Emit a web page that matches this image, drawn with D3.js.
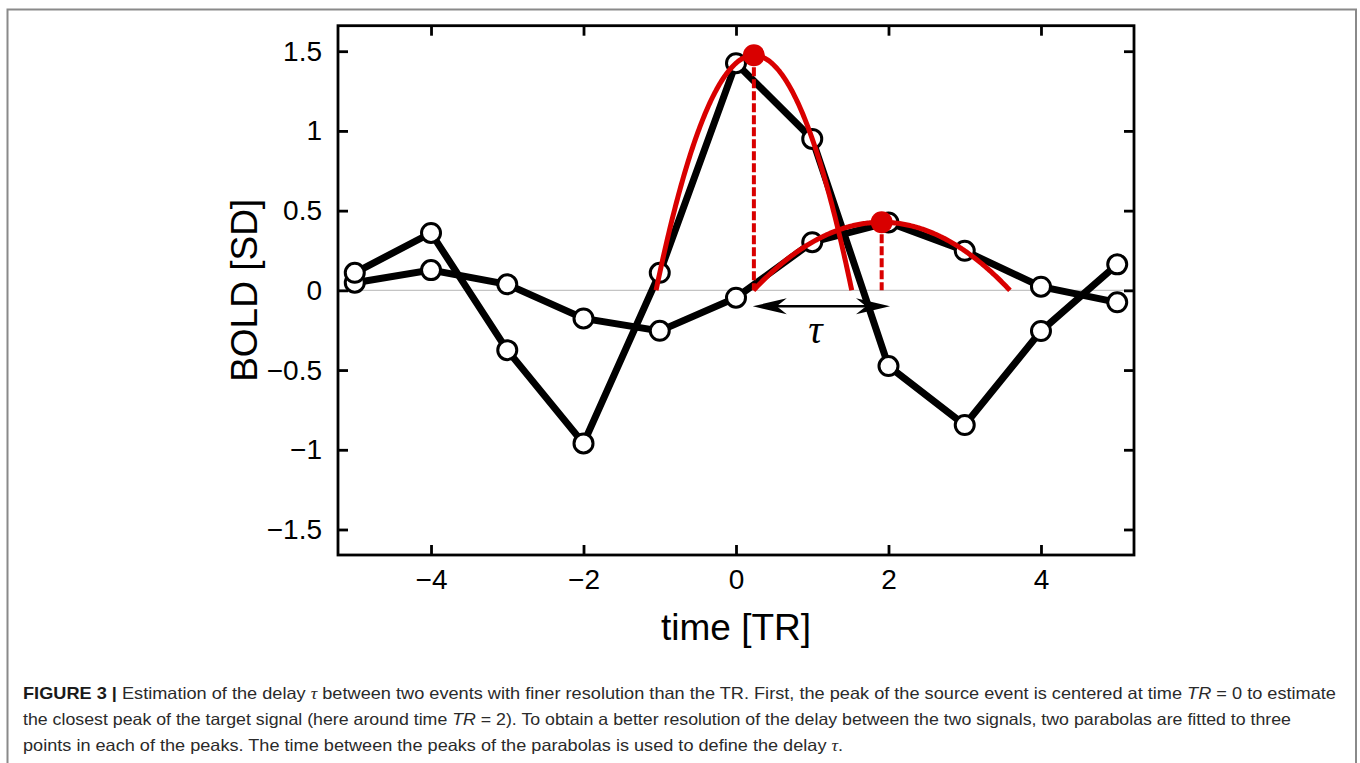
<!DOCTYPE html>
<html><head><meta charset="utf-8">
<script src="https://cdn.jsdelivr.net/npm/d3@7"></script>
<style>
html,body{margin:0;padding:0;background:#fff;}
svg{display:block;}
</style></head>
<body>
<svg id="chart" width="1360" height="763"></svg>
<script>
// ---- data ----
const timeTR = [-5,-4,-3,-2,-1,0,1,2,3,4,5];
const sourceSignal = [0.11,0.36,-0.375,-0.96,0.11,1.425,0.95,-0.475,-0.845,-0.255,0.163];
const targetSignal = [0.048,0.127,0.038,-0.176,-0.254,-0.046,0.302,0.426,0.248,0.023,-0.075];
const sourceFitIdx = [4,5,6];
const targetFitIdx = [6,7,8];
const xTicks = [-4,-2,0,2,4];
const yTicks = [-1.5,-1,-0.5,0,0.5,1,1.5];
const arrowSpan = [0.22, 2.02];
const arrowLevel = [-0.1];
const xTitle = "time [TR]";
const yTitle = "BOLD [SD]";

const svg = d3.select("#chart");
const L = 338, R = 1134, T = 25.7, B = 555;
const x = d3.scaleLinear().domain([-5.22,5.22]).range([L,R]);
const y = d3.scaleLinear().domain([-1.66,1.66]).range([B,T]);
const RED = "#d90000";

// outer frame
svg.append("path").attr("d",`M7.5,770 V9.5 H1356 V770`).attr("fill","none")
  .attr("stroke","#8a8a8a").attr("stroke-width",2);

// zero line
svg.append("line").attr("x1",L).attr("x2",R).attr("y1",y(0)).attr("y2",y(0))
  .attr("stroke","#c4c4c4").attr("stroke-width",1.2);

// axes
const fmt = d3.format("~g");
const axFont = "'Liberation Sans', Arial, Helvetica, sans-serif";
function styleAxis(g, showText){
  g.select(".domain").remove();
  g.selectAll(".tick line").attr("stroke","#000").attr("stroke-width",2.8);
  g.selectAll(".tick text").attr("fill","#000").style("font-family",axFont).style("font-size","28px");
  if(!showText) g.selectAll(".tick text").remove();
}
svg.append("g").attr("transform",`translate(0,${B})`)
  .call(d3.axisBottom(x).tickValues(xTicks).tickFormat(fmt).tickSize(-10).tickPadding(14))
  .call(g=>styleAxis(g,true));
svg.append("g").attr("transform",`translate(0,${T})`)
  .call(d3.axisTop(x).tickValues(xTicks).tickSize(-10))
  .call(g=>styleAxis(g,false));
svg.append("g").attr("transform",`translate(${L},0)`)
  .call(d3.axisLeft(y).tickValues(yTicks).tickFormat(fmt).tickSize(-10).tickPadding(16))
  .call(g=>styleAxis(g,true));
svg.append("g").attr("transform",`translate(${R},0)`)
  .call(d3.axisRight(y).tickValues(yTicks).tickSize(-10))
  .call(g=>styleAxis(g,false));

// frame
svg.append("rect").attr("x",L).attr("y",T).attr("width",R-L).attr("height",B-T)
  .attr("fill","none").attr("stroke","#000").attr("stroke-width",2.8);

// axis titles
svg.append("text").attr("x",(L+R)/2).attr("y",640).attr("text-anchor","middle")
  .style("font-family",axFont).style("font-size","37px").text(xTitle);
svg.append("text").attr("transform",`translate(257,${(T+B)/2}) rotate(-90)`).attr("text-anchor","middle")
  .style("font-family",axFont).style("font-size","37px").text(yTitle);

// series lines
const line = d3.line().x(d=>x(d[0])).y(d=>y(d[1]));
const srcPts = timeTR.map((t,i)=>[t,sourceSignal[i]]);
const tgtPts = timeTR.map((t,i)=>[t,targetSignal[i]]);
[tgtPts, srcPts].forEach(p=>{
  svg.append("path").attr("d",line(p)).attr("fill","none").attr("stroke","#000")
    .attr("stroke-width",7).attr("stroke-linejoin","miter");
});
[tgtPts, srcPts].forEach(p=>{
  svg.append("g").selectAll("circle").data(p).join("circle")
    .attr("cx",d=>x(d[0])).attr("cy",d=>y(d[1])).attr("r",9.5)
    .attr("fill","#fff").attr("stroke","#000").attr("stroke-width",3);
});

// parabola fits through three points
function fit(pts, idx){
  const [p0,p1,p2] = idx.map(i=>pts[i]);
  const h = p1[0]-p0[0];
  const a = (p0[1]+p2[1]-2*p1[1])/(2*h*h);
  const b = (p2[1]-p0[1])/(2*h);
  const xv = p1[0] - b/(2*a);
  const yv = p1[1] - b*b/(4*a);
  const half = Math.sqrt(-yv/a);
  return {a, xv, yv, x0: xv-half, x1: xv+half};
}
const fits = [fit(srcPts, sourceFitIdx), fit(tgtPts, targetFitIdx)];
fits.forEach(f=>{
  const pts = d3.range(0,201).map(k=>{const t=f.x0+(f.x1-f.x0)*k/200; return [t, f.yv + f.a*(t-f.xv)*(t-f.xv)];});
  svg.append("path").attr("d",line(pts)).attr("fill","none").attr("stroke",RED).attr("stroke-width",5);
});
fits.forEach(f=>{
  svg.append("line").attr("x1",x(f.xv)).attr("x2",x(f.xv)).attr("y1",y(f.yv)).attr("y2",y(0))
    .attr("stroke",RED).attr("stroke-width",4).attr("stroke-dasharray","9,3");
});
fits.forEach(f=>{
  svg.append("circle").attr("cx",x(f.xv)).attr("cy",y(f.yv)).attr("r",11).attr("fill",RED);
});

// tau arrow
const ay = y(arrowLevel[0]);
const ax0 = x(arrowSpan[0]), ax1 = x(arrowSpan[1]);
svg.append("line").attr("x1",ax0+10).attr("x2",ax1-10).attr("y1",ay).attr("y2",ay)
  .attr("stroke","#000").attr("stroke-width",2.6);
function head(tipX, dir){
  const len=34, hw=8, notch=24;
  return `M${tipX},${ay} L${tipX+dir*len},${ay-hw} L${tipX+dir*notch},${ay} L${tipX+dir*len},${ay+hw} Z`;
}
svg.append("path").attr("d",head(ax0,1)).attr("fill","#000");
svg.append("path").attr("d",head(ax1,-1)).attr("fill","#000");
svg.append("text").attr("x",(ax0+ax1)/2-6).attr("y",343).attr("text-anchor","middle")
  .style("font-family","'Liberation Serif','DejaVu Serif',serif").style("font-style","italic")
  .style("font-size","40px").text("τ");

// caption
const capFont = "'Liberation Sans', Arial, Helvetica, sans-serif";
const cap = svg.append("g").style("font-family",capFont).style("font-size","16.5px").attr("fill","#2a2a2a");
const lines = [
  [["FIGURE 3 | ","b"],["Estimation of the delay ",""],["τ","s"],[" between two events with finer resolution than the TR. First, the peak of the source event is centered at time ",""],["TR","i"],[" = 0 to estimate",""]],
  [["the closest peak of the target signal (here around time ",""],["TR","i"],[" = 2). To obtain a better resolution of the delay between the two signals, two parabolas are fitted to three",""]],
  [["points in each of the peaks. The time between the peaks of the parabolas is used to define the delay ",""],["τ","s"],[".",""]]
];
const lineW = [1313, 1268, 820];
lines.forEach((ln,i)=>{
  const t = cap.append("text").attr("x",23).attr("y",699+i*26)
    .attr("textLength",lineW[i]).attr("lengthAdjust","spacingAndGlyphs");
  ln.forEach(([s,st])=>{
    const ts = t.append("tspan").text(s);
    if(st==="b") ts.style("font-weight","bold").attr("fill","#1a1a1a");
    if(st==="i") ts.style("font-style","italic");
    if(st==="s") ts.style("font-style","italic").style("font-family","'Liberation Serif',serif");
  });
});
</script>
</body></html>
